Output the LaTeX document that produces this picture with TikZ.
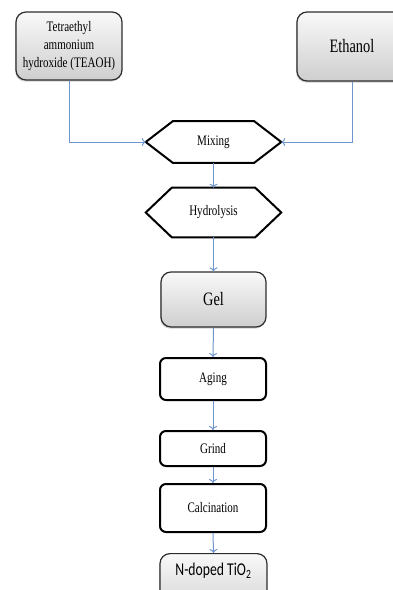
\documentclass[tikz,border=0pt]{standalone}
\usepackage{fontspec}
\setmainfont[FakeStretch=0.76]{Liberation Serif}
\newfontfamily\calfont[FakeStretch=0.76]{Carlito}
\usetikzlibrary{shadows,arrows.meta}
\newcommand{\UNIT}{0.75pt}
\newcommand{\SMALLTXT}{\fontsize{10.9pt}{13.5pt}\selectfont}
\newcommand{\BIGTXT}{\fontsize{14.2pt}{16pt}\selectfont}
\definecolor{mylink}{RGB}{110,150,205}
\definecolor{myedge}{RGB}{45,45,45}

% hexagon round a (plain) node: name, inset of the slanted sides
\newcommand{\HEXA}[2]{%
	\draw[line width=1.5pt, line join=miter] (#1.west) -- ([xshift=#2]#1.north west) -- ([xshift=-#2]#1.north east) -- (#1.east) -- ([xshift=-#2]#1.south east) -- ([xshift=#2]#1.south west) -- cycle;}

\tikzset{
	graybox/.style={rectangle, rounded corners=7.5pt, draw=myedge, line width=0.9pt, top color=gray!5, bottom color=gray!38, drop shadow={shadow xshift=-0.6pt, shadow yshift=-1.2pt, opacity=0.35}, align=center, inner sep=0pt},
	whitebox/.style={rectangle, rounded corners=4.5pt, draw=black, line width=1.5pt, fill=white, minimum width=106*\UNIT, inner sep=0pt, font=\SMALLTXT},
	hexnode/.style={rectangle, inner sep=0pt, minimum width=135*\UNIT, font=\SMALLTXT},
	flowline/.style={-{To[length=3pt,width=6pt]}, color=mylink, line width=0.75pt},
}

\begin{document}
\begin{tikzpicture}[x=\UNIT, y=-\UNIT]

	\useasboundingbox (0,0) rectangle (393,590);
	\clip (0,0) rectangle (393,590);

	%% inputs
	\node[graybox, minimum width=106*\UNIT, minimum height=68*\UNIT, font=\SMALLTXT] (teaoh) at (69,46) {Tetraethyl\\ammonium\\hydroxide (TEAOH)};
	\node[graybox, minimum width=110*\UNIT, minimum height=69*\UNIT, font=\BIGTXT] (ethanol) at (352,46.5) {Ethanol};

	%% hexagons
	\node[hexnode, minimum height=41*\UNIT] (mixing) at (213.5,142) {Mixing};
	\HEXA{mixing}{20.25pt}
	\node[hexnode, minimum height=49*\UNIT] (hydro) at (213.5,212.5) {Hydrolysis};
	\HEXA{hydro}{19.5pt}

	%% steps
	\node[graybox, minimum width=105*\UNIT, minimum height=55*\UNIT, font=\BIGTXT] (gel) at (213.5,299.5) {Gel};
	\node[whitebox, minimum height=42*\UNIT] (aging) at (213,379) {Aging};
	\node[whitebox, minimum height=35*\UNIT] (grind) at (213,448.5) {Grind};
	\node[whitebox, minimum height=48*\UNIT] (calc) at (213,508) {Calcination};
	\node[graybox, anchor=north, minimum width=107*\UNIT, text height=16.5pt, text depth=32pt, font=\calfont\fontsize{13.5pt}{15pt}\selectfont] (ndoped) at (213.5,553) {N-doped TiO\textsubscript{2}};

	%% connectors
	\draw[flowline] (teaoh.south) |- (mixing.west);
	\draw[flowline] (ethanol.south) |- (mixing.east);
	\draw[flowline] (mixing.south) -- (hydro.north);
	\draw[flowline] (hydro.south) -- (gel.north);
	\draw[flowline] (gel.south) -- (aging.north);
	\draw[flowline] (aging.south) -- (grind.north);
	\draw[flowline] (grind.south) -- (calc.north);
	\draw[flowline] (calc.south) -- (ndoped.north);

\end{tikzpicture}
\end{document}
